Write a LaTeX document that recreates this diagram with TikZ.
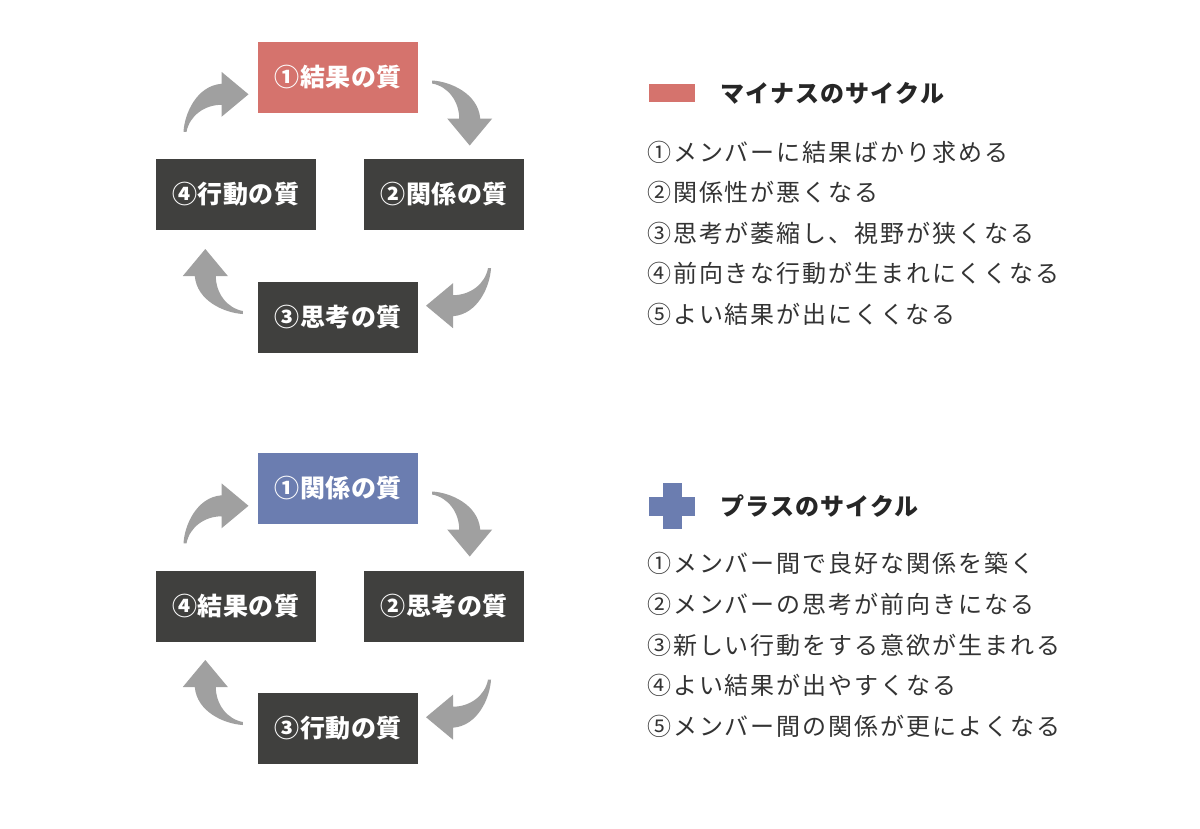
\documentclass[tikz,border=0pt]{standalone}
\usepackage{fontspec}
\newfontfamily\jp{Noto Sans CJK JP}
\usetikzlibrary{positioning, calc}

\definecolor{minusred}{HTML}{D5736D}
\definecolor{plusblue}{HTML}{6B7DB0}
\definecolor{boxgray}{HTML}{40403E}
\definecolor{arrowgray}{HTML}{A0A0A0}
\definecolor{textgray}{HTML}{333333}

\begin{document}
\begin{tikzpicture}[
  x=1pt, y=-1pt,
  box/.style={rectangle, minimum width=160pt, minimum height=71pt, inner sep=0pt, fill=boxgray, text=white,
    font=\jp\bfseries\fontsize{25}{29}\selectfont\addfontfeatures{LetterSpace=2}},
  keybar/.style={rectangle, inner sep=0pt, minimum width=#1},
  title/.style={anchor=west, inner sep=0pt, text=black!85,
    font=\jp\bfseries\fontsize{24}{28}\selectfont\addfontfeatures{LetterSpace=5}},
  item/.style={anchor=west, inner sep=0pt, text=textgray,
    font=\jp\fontsize{24}{28}\selectfont\addfontfeatures{LetterSpace=8}},
  cyclearrow/.pic={
    \fill[arrowgray] (0,-1) .. controls (18,0) and (46,12) .. (48,37)
      -- (60,37) -- (37.5,64) -- (15,37) -- (27,37)
      .. controls (27,20) and (16,5) .. (0,2) -- cycle;
  }
]
\fill[white] (0,0) rectangle (1200,828);

% Minus cycle
\node[box, fill=minusred] (m1) at (338,77.5) {①結果の質};
\node[box] (m2) at (444,194.5) {②関係の質};
\node[box] (m3) at (338,317) {③思考の質};
\node[box] (m4) at (235.5,194.5) {④行動の質};

\pic at ($(m1.east)+(14,4)$) {cyclearrow};
\pic[rotate=-90] at ($(m2.south)+(46,38)$) {cyclearrow};
\pic[rotate=180] at ($(m3.west)+(-15,-4)$) {cyclearrow};
\pic[rotate=90] at ($(m4.north)+(-51,-27)$) {cyclearrow};

% Plus cycle
\node[box, fill=plusblue] (p1) at (338,488.5) {①関係の質};
\node[box] (p2) at (444,606) {②思考の質};
\node[box] (p3) at (338,728) {③行動の質};
\node[box] (p4) at (235.5,606) {④結果の質};

\pic at ($(p1.east)+(14,4)$) {cyclearrow};
\pic[rotate=-90] at ($(p2.south)+(46,38)$) {cyclearrow};
\pic[rotate=180] at ($(p3.west)+(-15,-4)$) {cyclearrow};
\pic[rotate=90] at ($(p4.north)+(-51,-27)$) {cyclearrow};

% Minus legend
\node[keybar=46pt, minimum height=18pt, fill=minusred] (mkey) at (672,93) {};
\node[title] (mtitle) at (720,93) {マイナスのサイクル};
\foreach \t [count=\i] in {①メンバーに結果ばかり求める, ②関係性が悪くなる, ③思考が萎縮し、視野が狭くなる,
    ④前向きな行動が生まれにくくなる, ⑤よい結果が出にくくなる} {
  \node[item] (mi\i) at (647,111.5+40.5*\i) {\t};
}

% Plus legend
\node[keybar=19pt, minimum height=46pt, fill=plusblue] (pkey) at (672,506) {};
\node[keybar=46pt, minimum height=19pt, fill=plusblue] (pkeyh) at (672,506) {};
\node[title] (ptitle) at (720,506) {プラスのサイクル};
\foreach \t [count=\i] in {①メンバー間で良好な関係を築く, ②メンバーの思考が前向きになる, ③新しい行動をする意欲が生まれる,
    ④よい結果が出やすくなる, ⑤メンバー間の関係が更によくなる} {
  \node[item] (pi\i) at (647,522.5+40.8*\i) {\t};
}

\end{tikzpicture}
\end{document}
